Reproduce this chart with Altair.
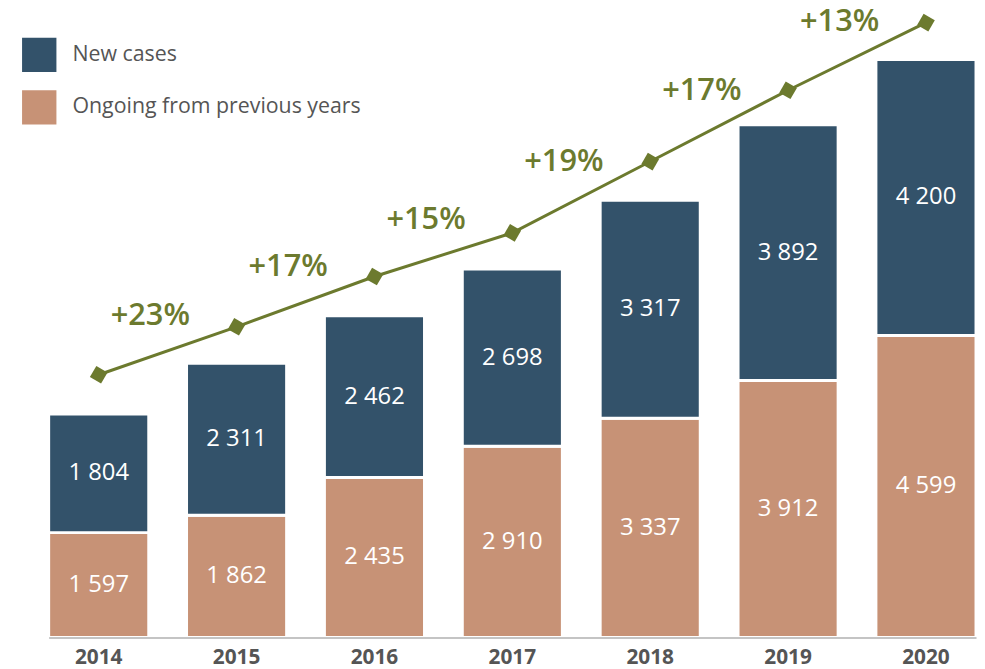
import altair as alt
import pandas as pd

years = ["2014", "2015", "2016", "2017", "2018", "2019", "2020"]
new_cases = [1804, 2311, 2462, 2698, 3317, 3892, 4200]
ongoing = [1597, 1862, 2435, 2910, 3337, 3912, 4599]
trend_line = [4000, 4730, 5495, 6160, 7245, 8330, 9360]
growth_labels = ["+23%", "+17%", "+15%", "+19%", "+17%", "+13%"]

series_names = ["New cases", "Ongoing from previous years"]
series_colors = ["#33526a", "#c79276"]
olive = "#6c7a2e"
FONT = "Open Sans"
YMAX = 9390


def fmt(v):
    return f"{v:,}".replace(",", " ")


rows = []
for i, y in enumerate(years):
    rows.append({"year": y, "series": series_names[1], "value": ongoing[i], "ord": 0,
                 "mid": ongoing[i] / 2, "label": fmt(ongoing[i])})
    rows.append({"year": y, "series": series_names[0], "value": new_cases[i], "ord": 1,
                 "mid": ongoing[i] + new_cases[i] / 2, "label": fmt(new_cases[i])})
bars_df = pd.DataFrame(rows)

line_df = pd.DataFrame({"year": years, "trend": trend_line})
growth_df = pd.DataFrame({
    "year": years[1:],
    "mid": [(trend_line[i] + trend_line[i + 1]) / 2 for i in range(len(years) - 1)],
    "label": growth_labels,
})

xenc = alt.X("year:N", title=None,
             scale=alt.Scale(paddingInner=0.274, paddingOuter=0, range=[11, 946], round=False),
             axis=alt.Axis(labelAngle=0, ticks=False, domainColor="#b0b0b0", domainWidth=1.5,
                           labelFont=FONT, labelFontSize=21, labelFontWeight="bold",
                           labelColor="#555555", labelPadding=9, grid=False, zindex=1))
yscale = alt.Scale(domain=[0, YMAX], nice=False, zero=True)

bars = alt.Chart(bars_df).mark_bar(stroke="white", strokeWidth=3).encode(
    x=xenc,
    y=alt.Y("value:Q", stack="zero", scale=yscale, axis=None),
    color=alt.Color("series:N",
                    scale=alt.Scale(domain=series_names, range=series_colors),
                    legend=alt.Legend(title=None, orient="none", legendX=-16, legendY=17,
                                      symbolType="square", symbolSize=1200,
                                      symbolStrokeWidth=0, labelFont=FONT,
                                      labelFontSize=21.5, labelColor="#555555",
                                      labelOffset=16, rowPadding=18, padding=0,
                                      labelLimit=0)),
    order=alt.Order("ord:Q", sort="ascending"),
)

bar_text = alt.Chart(bars_df).mark_text(
    font=FONT, fontSize=24, color="white", baseline="middle", align="center"
).encode(
    x=alt.X("year:N"),
    y=alt.Y("mid:Q", scale=yscale, axis=None),
    text="label:N",
)

line = alt.Chart(line_df).mark_line(color=olive, strokeWidth=3).encode(
    x=alt.X("year:N"),
    y=alt.Y("trend:Q", scale=yscale, axis=None),
)
points = alt.Chart(line_df).mark_point(
    shape="square", filled=True, size=170, angle=30, color=olive, opacity=1
).encode(
    x=alt.X("year:N"),
    y=alt.Y("trend:Q", scale=yscale, axis=None),
)
growth_text = alt.Chart(growth_df).mark_text(
    font=FONT, fontSize=31, fontWeight=600, color=olive, dx=-87, dy=-35,
    baseline="middle", align="center"
).encode(
    x=alt.X("year:N"),
    y=alt.Y("mid:Q", scale=yscale, axis=None),
    text="label:N",
)

chart = alt.layer(bars, bar_text, line, points, growth_text).properties(
    width=947, height=622,
    autosize=alt.AutoSizeParams(type="none"),
    padding={"left": 30, "top": 10, "right": 0, "bottom": 30},
).configure_view(stroke=None)

chart.save("out.html", embed_options={"renderer": "svg", "actions": False})
